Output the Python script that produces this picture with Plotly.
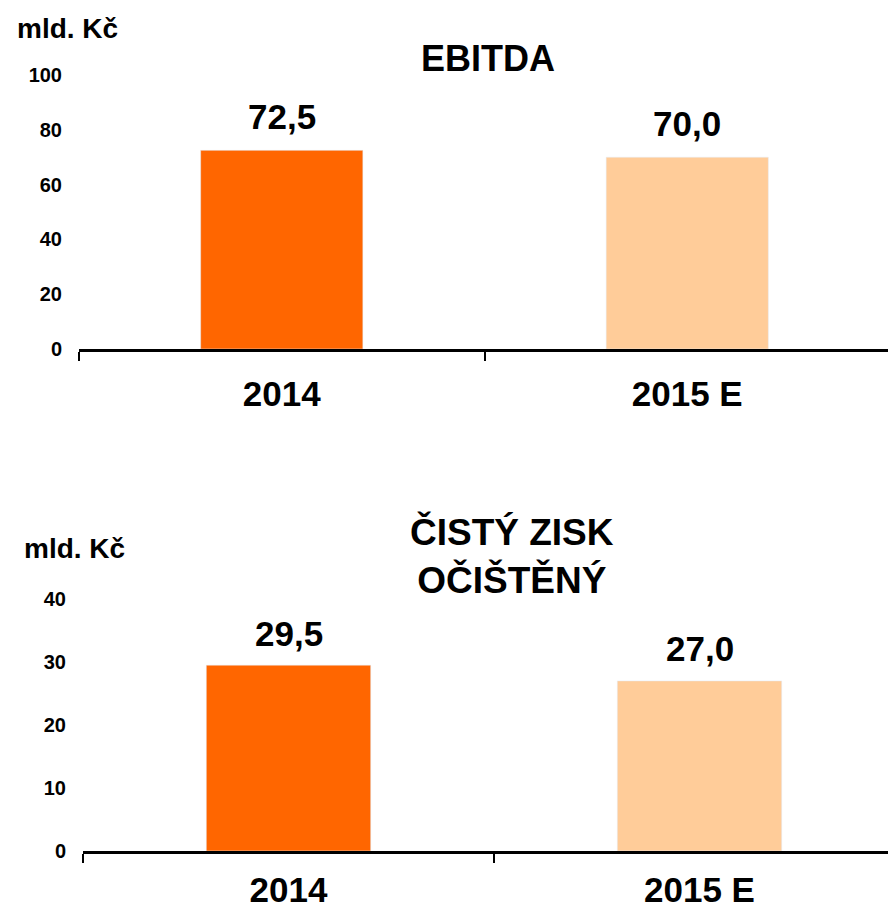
import plotly.graph_objects as go

categories = ["2014", "2015 E"]
ebitda = [72.5, 70.0]
net_profit = [29.5, 27.0]
bar_colors = ["#FF6600", "#FFCC99"]
ebitda_ticks = [0, 20, 40, 60, 80, 100]
profit_ticks = [0, 10, 20, 30, 40]

FONT = "Liberation Sans, Arial, sans-serif"
OFF = 8  # page body margin
W, H = 880, 904


def fy(px):
    return 1 - (px - OFF) / H


def fx(px):
    return min(1.0, (px - OFF) / W)


fig = go.Figure()
fig.add_trace(go.Bar(x=categories, y=ebitda, marker_color=bar_colors, width=0.4,
                     xaxis="x", yaxis="y", showlegend=False, hoverinfo="skip"))
fig.add_trace(go.Bar(x=categories, y=net_profit, marker_color=bar_colors, width=0.4,
                     xaxis="x2", yaxis="y2", showlegend=False, hoverinfo="skip"))

xcommon = dict(type="category", showline=True, linecolor="black", linewidth=3,
               ticks="outside", tickson="boundaries", ticklen=9, tickwidth=1.5,
               tickcolor="black", showgrid=False, zeroline=False, automargin=False,
               ticklabelstandoff=12,
               tickfont=dict(family=FONT, size=35, color="black", weight="bold"))
ycommon = dict(showline=False, showgrid=False, zeroline=False, ticks="", automargin=False,
               tickfont=dict(family=FONT, size=20, color="black", weight="bold"),
               ticklabelstandoff=16)

top_right = W + OFF
fig.update_layout(
    width=W, height=H, margin=dict(l=0, r=0, t=0, b=0, autoexpand=False),
    plot_bgcolor="white", paper_bgcolor="white",
    xaxis=dict(xcommon, domain=[fx(79), 1.0], anchor="y",
               range=[-0.5, -0.5 + (top_right - 79) / 405.5]),
    yaxis=dict(ycommon, domain=[fy(349), fy(75)], anchor="x", range=[0, 100],
               tickvals=ebitda_ticks),
    xaxis2=dict(xcommon, domain=[fx(83), 1.0], anchor="y2",
                range=[-0.5, -0.5 + (top_right - 83) / 411], ticklabelstandoff=6),
    yaxis2=dict(ycommon, domain=[fy(851), fy(599)], anchor="x2", range=[0, 40],
                tickvals=profit_ticks),
)

ann = []
for i in range(len(categories)):
    ann.append(dict(x=i, y=ebitda[i], xref="x", yref="y",
                    text="<b>" + f"{ebitda[i]:.1f}".replace(".", ",") + "</b>",
                    showarrow=False, yanchor="middle", yshift=34,
                    font=dict(family=FONT, size=35, color="black")))
    ann.append(dict(x=i, y=net_profit[i], xref="x2", yref="y2",
                    text="<b>" + f"{net_profit[i]:.1f}".replace(".", ",") + "</b>",
                    showarrow=False, yanchor="middle", yshift=32,
                    font=dict(family=FONT, size=35, color="black")))

ann += [
    dict(x=fx(67), y=fy(28), xref="paper", yref="paper", text="<b>mld. Kč</b>", showarrow=False,
         xanchor="center", yanchor="middle", font=dict(family=FONT, size=28, color="black")),
    dict(x=fx(488), y=fy(59), xref="paper", yref="paper", text="<b>EBITDA</b>", showarrow=False,
         xanchor="center", yanchor="middle", font=dict(family=FONT, size=36, color="black")),
    dict(x=fx(74), y=fy(548), xref="paper", yref="paper", text="<b>mld. Kč</b>", showarrow=False,
         xanchor="center", yanchor="middle", font=dict(family=FONT, size=28, color="black")),
    dict(x=fx(512), y=fy(556), xref="paper", yref="paper", text="<b>ČISTÝ ZISK<br>OČIŠTĚNÝ</b>",
         showarrow=False, xanchor="center", yanchor="middle",
         font=dict(family=FONT, size=37, color="black")),
]
fig.update_layout(annotations=ann)

fig.write_html("out.html")
